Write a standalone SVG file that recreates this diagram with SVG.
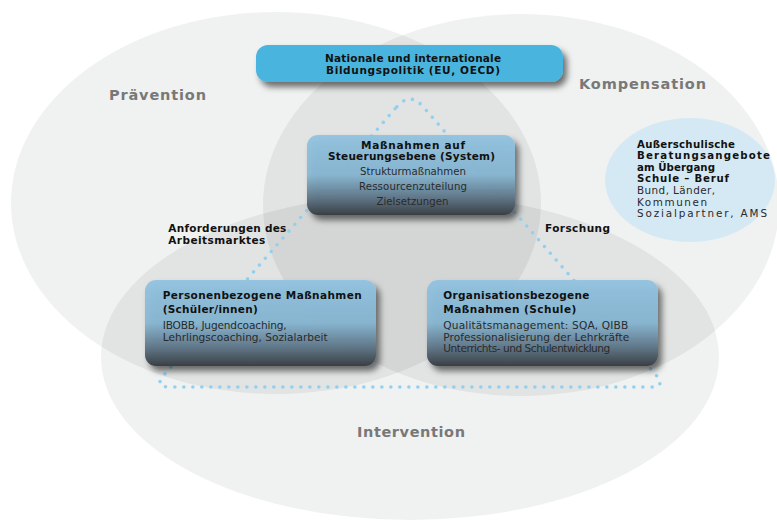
<svg xmlns="http://www.w3.org/2000/svg" width="777" height="521" viewBox="0 0 777 521">
<style>
  .venn { fill:#1e3434; fill-opacity:0.066; }
  .b { font-family:"DejaVu Sans","Liberation Sans",sans-serif; font-weight:bold; font-size:10.5px; fill:#111; }
  .r { font-family:"DejaVu Sans","Liberation Sans",sans-serif; font-size:10.6px; fill:#2a2a2a; }
  .rm { font-family:"DejaVu Sans","Liberation Sans",sans-serif; font-size:10.2px; fill:#2a2a2a; }
  .rs { font-family:"DejaVu Sans","Liberation Sans",sans-serif; font-size:10.4px; fill:#2a2a2a; }
  .bs { font-family:"DejaVu Sans","Liberation Sans",sans-serif; font-weight:bold; font-size:10.2px; fill:#111; }
  .big { font-family:"DejaVu Sans","Liberation Sans",sans-serif; font-weight:bold; font-size:14.5px; fill:#787878; }
  .mid { text-anchor:middle; }
  .dots { fill:none; stroke:#93d0ef; stroke-width:3.6; stroke-linecap:round; stroke-dasharray:0 9; }
</style>
<defs>
  <linearGradient id="boxGrad" x1="0" y1="0" x2="0" y2="1">
    <stop offset="0" stop-color="#92c3e0" stop-opacity="0.95"/>
    <stop offset="0.5" stop-color="#86b6d2" stop-opacity="0.92"/>
    <stop offset="0.78" stop-color="#5f7688" stop-opacity="0.95"/>
    <stop offset="1" stop-color="#3a3f44"/>
  </linearGradient>
  <filter id="shadow" x="-10%" y="-20%" width="125%" height="150%">
    <feGaussianBlur in="SourceAlpha" stdDeviation="3"/>
    <feOffset dx="4" dy="5" result="ob"/>
    <feFlood flood-color="#000" flood-opacity="0.55"/>
    <feComposite in2="ob" operator="in"/>
    <feMerge><feMergeNode/><feMergeNode in="SourceGraphic"/></feMerge>
  </filter>
</defs>
<rect x="0" y="0" width="777" height="521" fill="#ffffff"/>

<g id="venn">
  <ellipse id="praevention-area" class="venn" cx="276" cy="203" rx="265" ry="191"/>
  <ellipse id="kompensation-area" class="venn" cx="521" cy="205" rx="258" ry="191"/>
  <ellipse id="intervention-area" class="venn" cx="410" cy="357" rx="309" ry="163"/>
</g>

<g id="labels">
  <text class="big" x="109" y="100" textLength="97">Prävention</text>
  <text class="big" x="579" y="88.5" textLength="127">Kompensation</text>
  <text class="big" x="357" y="437" textLength="108">Intervention</text>
</g>

<g id="connectors">
  <path class="dots" d="M396.9,106.7 Q410,91.6 423.1,106.7 L655.9,374.9 Q666.4,387 650.4,387 L169.6,387 Q153.6,387 164.1,374.9 Z"/>
  <text class="b" x="168.3" y="232.3" textLength="118">Anforderungen des</text>
  <text class="b" x="168.3" y="243.5" textLength="97">Arbeitsmarktes</text>
  <text class="b" x="545" y="232.3" textLength="65">Forschung</text>
</g>

<g id="beratung">
  <ellipse cx="690" cy="180" rx="85" ry="62" fill="#d5e9f5"/>
  <text class="bs" x="637" y="147.5" textLength="98">Außerschulische</text>
  <text class="bs" x="637" y="159" textLength="133">Beratungsangebote</text>
  <text class="bs" x="637" y="170.5" textLength="78">am Übergang</text>
  <text class="bs" x="637" y="182" textLength="92">Schule – Beruf</text>
  <text class="rs" x="637" y="194" textLength="78">Bund, Länder,</text>
  <text class="rs" x="637" y="205.5" textLength="70">Kommunen</text>
  <text class="rs" x="637" y="217" textLength="130">Sozialpartner, AMS</text>
</g>

<g id="bildungspolitik">
  <rect x="256" y="45" width="307" height="37" rx="12" fill="#4ab4de" filter="url(#shadow)"/>
  <text class="b mid" x="413" y="62" textLength="176">Nationale und internationale</text>
  <text class="b mid" x="413" y="73.5" textLength="174">Bildungspolitik (EU, OECD)</text>
</g>

<g id="steuerung">
  <rect x="307" y="135" width="208" height="80" rx="11" fill="url(#boxGrad)" filter="url(#shadow)"/>
  <text class="b mid" x="413" y="148.5" textLength="104">Maßnahmen auf</text>
  <text class="b mid" x="411.5" y="160" textLength="167">Steuerungsebene (System)</text>
  <text class="rm mid" x="413" y="174.5" textLength="106">Strukturmaßnahmen</text>
  <text class="rm mid" x="413" y="189.5" textLength="108">Ressourcenzuteilung</text>
  <text class="rm mid" x="412.5" y="204.5" textLength="72">Zielsetzungen</text>
</g>

<g id="personen">
  <rect x="145" y="280" width="231" height="86" rx="11" fill="url(#boxGrad)" filter="url(#shadow)"/>
  <text class="b" x="162.7" y="298.5" textLength="199">Personenbezogene Maßnahmen</text>
  <text class="b" x="162.7" y="313" textLength="95">(Schüler/innen)</text>
  <text class="r" x="162.7" y="329" textLength="124">IBOBB, Jugendcoaching,</text>
  <text class="r" x="162.7" y="340.5" textLength="165">Lehrlingscoaching, Sozialarbeit</text>
</g>

<g id="organisation">
  <rect x="427" y="280" width="231" height="86" rx="11" fill="url(#boxGrad)" filter="url(#shadow)"/>
  <text class="b" x="443.3" y="298.5" textLength="146">Organisationsbezogene</text>
  <text class="b" x="443.3" y="313" textLength="133">Maßnahmen (Schule)</text>
  <text class="r" x="443.3" y="329" textLength="185">Qualitätsmanagement: SQA, QIBB</text>
  <text class="r" x="443.3" y="340.5" textLength="186">Professionalisierung der Lehrkräfte</text>
  <text class="r" x="443.3" y="352" textLength="167">Unterrichts- und Schulentwicklung</text>
</g>
</svg>
